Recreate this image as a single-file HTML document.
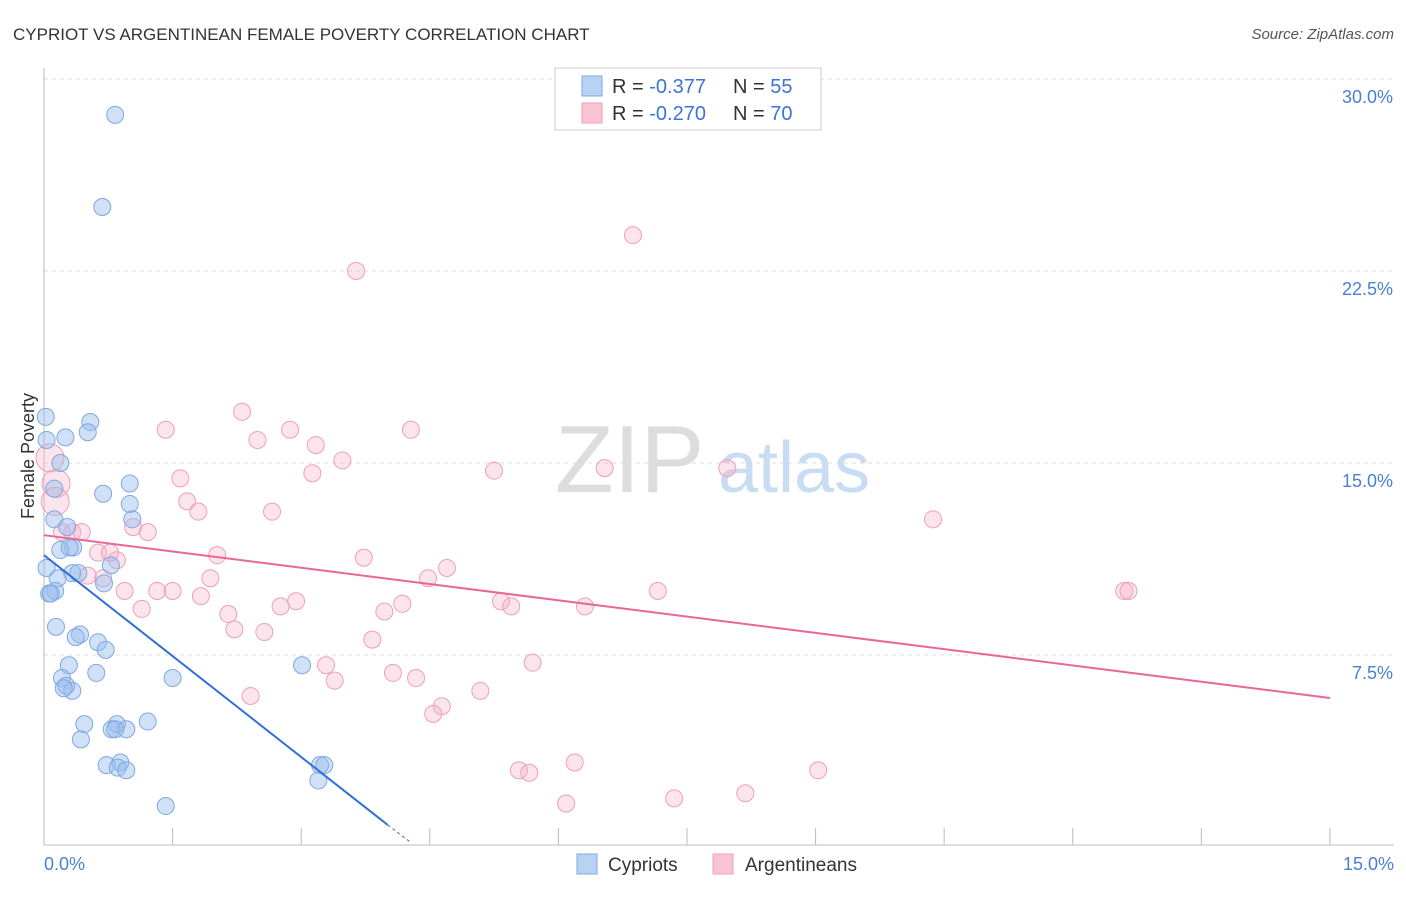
<!DOCTYPE html>
<html><head><meta charset="utf-8"><style>
body{margin:0;background:#fff;font-family:"Liberation Sans",sans-serif}
svg text{font-family:"Liberation Sans",sans-serif}
</style></head><body>
<svg width="1406" height="892">
<text x="13" y="40" font-size="17" fill="#333">CYPRIOT VS ARGENTINEAN FEMALE POVERTY CORRELATION CHART</text>
<text x="1394" y="39" font-size="15" fill="#555" font-style="italic" text-anchor="end">Source: ZipAtlas.com</text>
<text x="555" y="492" font-size="96" fill="#ddd" font-family="Liberation Serif">ZIP</text>
<text x="718" y="492" font-size="72" fill="#c8dcf4">atlas</text>
<g id="grid"></g>
<g id="axes"></g>
<g id="marks"></g>
<text transform="translate(34,456) rotate(-90)" font-size="18" fill="#333" text-anchor="middle">Female Poverty</text>
<text x="44" y="870" font-size="18" fill="#4a7fd4">0.0%</text>
<text x="1394" y="870" font-size="18" fill="#4a7fd4" text-anchor="end">15.0%</text>
<g>
<rect x="555" y="68" width="266" height="62" fill="#fff" stroke="#ccc"/>
<rect x="582" y="76" width="20" height="20" fill="#b8d2f4" stroke="#7fa8e0"/>
<rect x="582" y="103" width="20" height="20" fill="#f8c4d4" stroke="#eea0b8"/>
<text x="612" y="93" font-size="20" fill="#333">R = <tspan fill="#3b74d4">-0.377</tspan></text>
<text x="733" y="93" font-size="20" fill="#333">N = <tspan fill="#3b74d4">55</tspan></text>
<text x="612" y="120" font-size="20" fill="#333">R = <tspan fill="#3b74d4">-0.270</tspan></text>
<text x="733" y="120" font-size="20" fill="#333">N = <tspan fill="#3b74d4">70</tspan></text>
</g>
<g><rect x="577" y="854" width="20" height="20" fill="#b8d2f4" stroke="#7fa8e0"/><text x="608" y="871" font-size="19" fill="#333">Cypriots</text></g>
<g><rect x="713" y="854" width="20" height="20" fill="#f8c4d4" stroke="#eea0b8"/><text x="745" y="871" font-size="19" fill="#333">Argentineans</text></g>
</svg>
<script>
const yTicks=[7.5,15,22.5,30];
const yTickLabels=["7.5%","15.0%","22.5%","30.0%"];
const xTicks=[0,1.5,3,4.5,6,7.5,9,10.5,12,13.5,15];
const cypX=[0.83,0.68,0.02,0.03,0.25,0.54,0.51,0.19,0.12,0.69,1.00,1.00,1.03,0.12,0.27,0.34,0.19,0.30,0.03,0.16,0.78,0.33,0.40,0.70,0.13,0.06,0.14,0.42,0.37,0.63,0.72,0.29,0.61,0.21,0.26,0.33,1.50,3.01,0.47,0.85,0.79,0.96,1.21,0.43,0.73,0.89,0.86,0.96,3.22,3.27,3.20,1.42,0.08,0.83,0.23];
const cypY=[28.6,25.0,16.8,15.9,16.0,16.6,16.2,15.0,14.0,13.8,14.2,13.4,12.8,12.8,12.5,11.7,11.6,11.7,10.9,10.5,11.0,10.7,10.7,10.3,10.0,9.9,8.6,8.3,8.2,8.0,7.7,7.1,6.8,6.6,6.3,6.1,6.6,7.1,4.8,4.8,4.6,4.6,4.9,4.2,3.2,3.3,3.1,3.0,3.2,3.2,2.6,1.6,9.9,4.6,6.2];
const argX=[6.87,3.64,2.31,1.42,2.87,4.28,2.49,3.17,3.48,5.25,6.54,7.97,3.13,1.59,1.67,1.80,2.66,10.37,1.04,1.21,0.33,0.44,2.02,0.63,0.85,3.73,0.77,4.70,4.48,1.94,0.69,0.51,0.94,1.32,1.50,1.83,7.16,12.60,12.65,1.14,2.15,2.76,2.94,3.97,4.18,5.33,5.45,6.31,2.22,2.57,3.83,3.29,5.70,4.07,4.34,3.39,5.09,2.41,4.64,4.54,6.19,5.54,5.66,9.03,6.09,7.35,8.18,0.14,0.13,0.07,0.21];
const argY=[23.9,22.5,17.0,16.3,16.3,16.3,15.9,15.7,15.1,14.7,14.8,14.8,14.6,14.4,13.5,13.1,13.1,12.8,12.5,12.3,12.3,12.3,11.4,11.5,11.2,11.3,11.5,10.9,10.5,10.5,10.5,10.6,10.0,10.0,10.0,9.8,10.0,10.0,10.0,9.3,9.1,9.4,9.6,9.2,9.5,9.6,9.4,9.4,8.5,8.4,8.1,7.1,7.2,6.8,6.6,6.5,6.1,5.9,5.5,5.2,3.3,3.0,2.9,3.0,1.7,1.9,2.1,14.2,13.5,15.2,12.3];
const xS=v=>44+v*85.73, yS=v=>847-v*25.6;
const NS="http://www.w3.org/2000/svg";
function mk(p,t,a){const e=document.createElementNS(NS,t);for(const k in a)e.setAttribute(k,a[k]);p.appendChild(e);return e;}
const grid=document.getElementById('grid'),axes=document.getElementById('axes'),marks=document.getElementById('marks');
yTicks.forEach((t,i)=>{
 const l=mk(grid,'line',{x1:44,x2:1394,y1:yS(t),y2:yS(t),stroke:'#ddd','stroke-dasharray':'4,4'});
 
 
 const tx=mk(grid,'text',{x:1393,y:yS(t)+24,'font-size':18,fill:'#4a7fd4','text-anchor':'end'});tx.textContent=yTickLabels[i];
 
 
});
const ya=mk(axes,'line',{x1:44,x2:44,y1:68,y2:845,stroke:'#bbb'});


const xa=mk(axes,'line',{x1:44,x2:1394,y1:845,y2:845,stroke:'#bbb'});


xTicks.forEach(t=>{const l=mk(axes,'line',{x1:xS(t),x2:xS(t),y1:828,y2:845,stroke:'#bbb'});
 
 });
function dots(X,Y,fill,stroke,name){X.forEach((x,i)=>{const big=name==='argentinean-point'&&x<0.25&&Y[i]>13;
 const c=mk(marks,'circle',{cx:xS(x),cy:yS(Y[i]),r:big?14:8.5,fill:fill,stroke:stroke,'stroke-width':1});
 
 });}
dots(argX,argY,'rgba(246,178,200,0.35)','#eea0b8','argentinean-point');
dots(cypX,cypY,'rgba(150,188,238,0.45)','#7fa8e0','cypriot-point');
const bl=mk(marks,'line',{x1:xS(0),y1:yS(11.4),x2:xS(4.01),y2:yS(0.86),stroke:'#2f6fd6','stroke-width':2});


const bd=mk(marks,'line',{x1:xS(4.01),y1:yS(0.86),x2:xS(4.27),y2:yS(0.2),stroke:'#2f6fd6','stroke-width':1,'stroke-dasharray':'3,3'});


const pl=mk(marks,'line',{x1:xS(0),y1:yS(12.18),x2:xS(15),y2:yS(5.82),stroke:'#e8679a','stroke-width':2});


</script>
</body></html>
